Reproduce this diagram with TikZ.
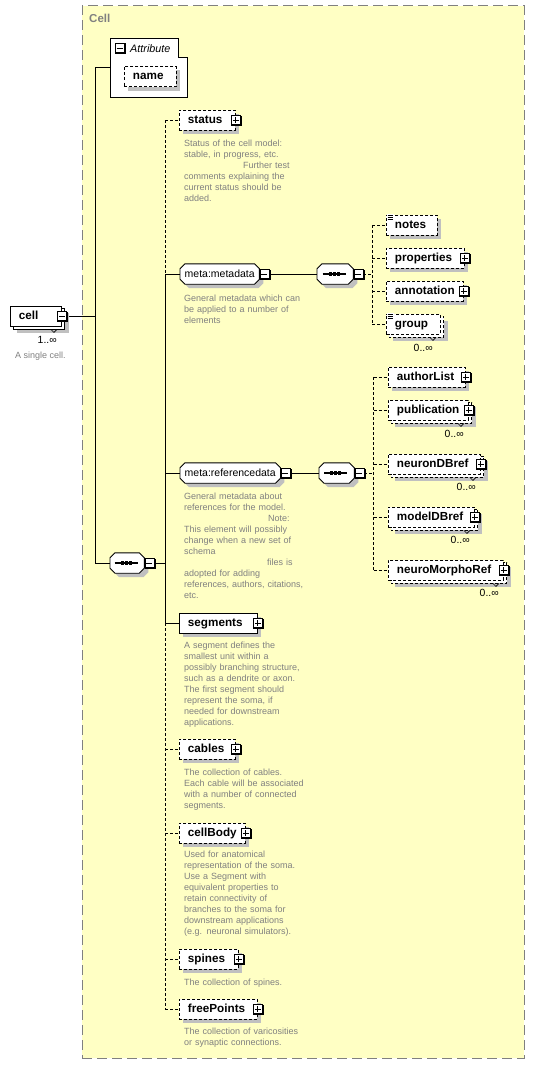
\documentclass[tikz,border=0pt]{standalone}
\usepackage{fontspec}
\setmainfont{Liberation Sans}
\usetikzlibrary{shadows,calc}
\definecolor{cellyellow}{RGB}{255,255,196}
\definecolor{shgray}{RGB}{192,192,192}
\definecolor{descgray}{RGB}{128,128,128}
\definecolor{framegray}{RGB}{128,128,128}
\pgfdeclarelayer{bg}
\pgfdeclarelayer{conn}
\pgfdeclarelayer{back}
\pgfsetlayers{bg,conn,back,main}
\tikzset{
  shad/.style={drop shadow={shadow xshift=4pt, shadow yshift=-4pt, fill=shgray, opacity=1}},
  elem/.style={draw, fill=white, line width=0.9pt, rectangle, minimum height=20pt,
    inner xsep=8.5pt, inner ysep=0pt, text height=8.5pt, text depth=2.5pt, align=left,
    font=\fontsize{11.7}{13}\selectfont\bfseries, anchor=west},
  elw/.code={\pgfmathsetmacro\tw{#1-17}\tikzset{minimum width=#1pt, text width/.expanded=\tw pt}},
  opt/.style={dash pattern=on 3pt off 2pt},
  octel/.style={rectangle, minimum height=20pt, inner xsep=4.5pt, inner ysep=0pt,
    text height=8.5pt, text depth=2.5pt, font=\fontsize{10.5}{12}\selectfont, anchor=west},
  comp/.style={rectangle, minimum height=20pt, inner sep=0pt, anchor=west},
  desc/.style={anchor=base west, inner sep=0pt, text width=150pt, align=left,
    font=\fontsize{9}{11}\selectfont, text=descgray},
  mult/.style={anchor=base east, inner sep=0pt, font=\fontsize{10.4}{12}\selectfont},
  conn/.style={line width=0.9pt},
  pics/plusbox/.style={code={
    \fill[black] (-4.5,-4.5) rectangle (6.2,6.2);
    \filldraw[fill=white,draw=black,line width=0.8pt] (-4.5,-4.5) rectangle (4.5,4.5);
    \draw[line width=0.9pt] (-3,0) -- (3,0) (0,-3) -- (0,3);}},
  pics/minusbox/.style={code={
    \fill[black] (-4.5,-4.5) rectangle (6.2,6.2);
    \filldraw[fill=white,draw=black,line width=0.8pt] (-4.5,-4.5) rectangle (4.5,4.5);
    \draw[line width=0.9pt] (-3,0) -- (3,0);}},
}
\newcommand\octpath[2]{($(#1.north west)+(5+#2,#2)$) -- ($(#1.north east)+(-5+#2,#2)$) -- ($(#1.north east)+(#2,5+#2)$) -- ($(#1.south east)+(#2,-5+#2)$) -- ($(#1.south east)+(-5+#2,#2)$) -- ($(#1.south west)+(5+#2,#2)$) -- ($(#1.south west)+(#2,-5+#2)$) -- ($(#1.north west)+(#2,5+#2)$) -- cycle}
\newcommand\octshape[1]{%
  \begin{pgfonlayer}{back}
  \fill[shgray] \octpath{#1}{4};
  \filldraw[fill=white,draw=black,line width=0.9pt] \octpath{#1}{0};
  \end{pgfonlayer}}
\newcommand\seqsym[1]{%
  \draw[line width=1.1pt] ($(#1.center)+(-12.5,0)$) -- ($(#1.center)+(10.5,0)$);
  \foreach \d in {-5,-1,3}{\fill ($(#1.center)+(\d-1.7,-1.7)$) rectangle ++(3.4,3.4);}}
\newcommand\stackback[2]{%
  \begin{pgfonlayer}{back}
  \fill[shgray] ($(#1.north west)+(7,7)$) rectangle ($(#1.south east)+(7,7)$);
  \filldraw[fill=white,draw=black,line width=0.9pt,#2] ($(#1.north west)+(3,3)$) rectangle ($(#1.south east)+(3,3)$);
  \end{pgfonlayer}
  \draw[line width=0.6pt] ($(#1.south east)+(-11,3)$) -- ++(3,3) -- ++(3,-3);}
\newcommand\docicon[1]{%
  \fill[white] ($(#1.north west)+(0.5,-1)$) rectangle ($(#1.north west)+(8,6.5)$);
  \draw[line width=0.8pt] ($(#1.north west)+(1.5,1)$) -- ++(5.5,0) ($(#1.north west)+(1.5,3)$) -- ++(5.5,0) ($(#1.north west)+(1.5,5)$) -- ++(5.5,0);}
\newcommand\elem[6]{\node[elem, elw=#4, #5] (#1) at (#2,#3+10) {#6};}

\begin{document}
\begin{tikzpicture}[x=1pt, y=-1pt]
\useasboundingbox (0,0) rectangle (535,1065);

% container
\begin{pgfonlayer}{bg}
\node[draw=framegray, fill=cellyellow, line width=0.9pt, dash pattern=on 10pt off 5pt,
  minimum width=441.5pt, minimum height=1052.5pt, anchor=north west, inner sep=0pt]
  (cellgroup) at (82,5.5) {};
\end{pgfonlayer}
\node[anchor=base west, inner sep=0pt, font=\fontsize{11.5}{13}\selectfont\bfseries, text=framegray] (celltitle) at (89,23) {Cell};

% spine coordinates
\coordinate (sp1) at (95,0);
\coordinate (sp2) at (165,0);
\coordinate (sp3) at (372,0);
\coordinate (sp4) at (373.5,0);

% cell element
\elem{cell}{10}{306}{51}{}{cell}
\stackback{cell}{}
\pic at (cell.east) {minusbox};
\node[mult] (cellmult) at ($(cell.south east)+(-5,17)$) {1..∞};
\node[anchor=base west, inner sep=0pt, font=\fontsize{9}{11}\selectfont, text=descgray] (celldesc) at (15,358) {A single cell.};

% attribute group
\node[rectangle, minimum width=77pt, minimum height=59pt, anchor=north west, inner sep=0pt] (attr) at (110,38) {};
\begin{pgfonlayer}{back}
\filldraw[fill=white, draw=black, line width=0.9pt] (attr.north west) -- ($(attr.north east)+(-9,0)$) -- ($(attr.north east)+(-9,19)$) -- ($(attr.north east)+(0,19)$) -- (attr.south east) -- (attr.south west) -- cycle;
\end{pgfonlayer}
\pic at ($(attr.north west)+(9.5,10)$) {minusbox};
\node[anchor=base west, inner sep=0pt, font=\fontsize{10.8}{12}\selectfont\itshape] (attrlabel) at (130,52.5) {Attribute};
\elem{name}{124}{66.5}{52}{opt,shad}{name}

% main sequence
\node[comp, minimum width=34pt] (seqm) at (110,563) {};
\octshape{seqm}
\seqsym{seqm}
\pic at ($(seqm.east)+(5,0)$) {minusbox};

% children
\elem{status}{179}{110}{56}{opt,shad}{status}
\pic at (status.east) {plusbox};
\node[desc] (dstatus) at (184,146) {Status of the cell model:\\stable, in progress, etc.\\\hspace*{59pt}Further test\\comments explaining the\\current status should be\\added.};

\node[octel] (meta) at (180,274) {meta:metadata};
\octshape{meta}
\pic at ($(meta.east)+(5,0)$) {minusbox};
\node[desc] (dmeta) at (184,301) {General metadata which can\\be applied to a number of\\elements};

\node[comp, minimum width=36pt] (seq1) at (317,274) {};
\octshape{seq1}
\seqsym{seq1}
\pic at ($(seq1.east)+(5,0)$) {minusbox};

\elem{notes}{386}{215}{51}{opt,shad}{notes}
\docicon{notes}
\elem{properties}{386}{248}{78}{opt,shad}{properties}
\pic at (properties.east) {plusbox};
\elem{annotation}{386}{281}{77}{opt,shad}{annotation}
\pic at (annotation.east) {plusbox};
\elem{group}{386}{314}{54}{opt}{group}
\stackback{group}{opt}
\docicon{group}
\node[mult] (groupmult) at ($(group.south east)+(-8,17)$) {0..∞};

\node[octel] (ref) at (180,473) {meta:referencedata};
\octshape{ref}
\pic at ($(ref.east)+(5,0)$) {minusbox};
\node[desc] (dref) at (184,499.5) {General metadata about\\references for the model.\\\hspace*{84pt}Note:\\This element will possibly\\change when a new set of\\schema\\\hspace*{83pt}files is\\adopted for adding\\references, authors, citations,\\etc.};

\node[comp, minimum width=35pt] (seq2) at (319,473) {};
\octshape{seq2}
\seqsym{seq2}
\pic at ($(seq2.east)+(5,0)$) {minusbox};

\elem{authorList}{388}{367}{77}{opt,shad}{authorList}
\pic at (authorList.east) {plusbox};
\elem{publication}{388}{400}{80}{opt}{publication}
\stackback{publication}{opt}
\pic at (publication.east) {plusbox};
\node[mult] (pubmult) at ($(publication.south east)+(-5,17)$) {0..∞};
\elem{neuronDBref}{388}{454}{92}{opt}{neuronDBref}
\stackback{neuronDBref}{opt}
\pic at (neuronDBref.east) {plusbox};
\node[mult] (ndbmult) at ($(neuronDBref.south east)+(-5,16.5)$) {0..∞};
\elem{modelDBref}{388}{507}{86}{opt}{modelDBref}
\stackback{modelDBref}{opt}
\pic at (modelDBref.east) {plusbox};
\node[mult] (mdbmult) at ($(modelDBref.south east)+(-5,16.5)$) {0..∞};
\elem{neuroMorphoRef}{388}{560}{115}{opt}{neuroMorphoRef}
\stackback{neuroMorphoRef}{opt}
\pic at (neuroMorphoRef.east) {plusbox};
\node[mult] (nmrmult) at ($(neuroMorphoRef.south east)+(-5,16.5)$) {0..∞};

\elem{segments}{179}{613}{78}{shad}{segments}
\pic at (segments.east) {plusbox};
\node[desc] (dseg) at (184,648.5) {A segment defines the\\smallest unit within a\\possibly branching structure,\\such as a dendrite or axon.\\The first segment should\\represent the soma, if\\needed for downstream\\applications.};

\elem{cables}{179}{739}{56}{opt,shad}{cables}
\pic at (cables.east) {plusbox};
\node[desc] (dcables) at (184,775) {The collection of cables.\\Each cable will be associated\\with a number of connected\\segments.};

\elem{cellBody}{179}{823}{66}{opt,shad}{cellBody}
\pic at (cellBody.east) {plusbox};
\node[desc] (dbody) at (184,857.5) {Used for anatomical\\representation of the soma.\\Use a Segment with\\equivalent properties to\\retain connectivity of\\branches to the soma for\\downstream applications\\(e.g. neuronal simulators).};

\elem{spines}{179}{949}{59}{opt,shad}{spines}
\pic at (spines.east) {plusbox};
\node[desc] (dspines) at (184,985) {The collection of spines.};

\elem{freePoints}{179}{999}{78}{opt,shad}{freePoints}
\pic at (freePoints.east) {plusbox};
\node[desc] (dfree) at (184,1034.5) {The collection of varicosities\\or synaptic connections.};

% connectors
\begin{pgfonlayer}{conn}
\draw[conn] (cell.east) -- (cell.east -| sp1);
\draw[conn] (attr.west) -- (attr.west -| sp1) -- (seqm.west -| sp1) -- (seqm.west);
\draw[conn] (seqm.east) -- (seqm.east -| sp2);
\draw[conn,opt] (status.west -| sp2) -- (meta.west -| sp2);
\draw[conn] (meta.west -| sp2) -- (segments.west -| sp2);
\draw[conn,opt] (segments.west -| sp2) -- (freePoints.west -| sp2);
\draw[conn,opt] (status.west -| sp2) -- (status.west);
\draw[conn] (meta.west -| sp2) -- (meta.west);
\draw[conn] (ref.west -| sp2) -- (ref.west);
\draw[conn] (segments.west -| sp2) -- (segments.west);
\draw[conn,opt] (cables.west -| sp2) -- (cables.west);
\draw[conn,opt] (cellBody.west -| sp2) -- (cellBody.west);
\draw[conn,opt] (spines.west -| sp2) -- (spines.west);
\draw[conn,opt] (freePoints.west -| sp2) -- (freePoints.west);
% metadata sequence
\draw[conn] (meta.east) -- (seq1.west);
\draw[conn,opt] (seq1.east) -- (seq1.east -| sp3);
\draw[conn,opt] (notes.west -| sp3) -- (group.west -| sp3);
\draw[conn,opt] (notes.west -| sp3) -- (notes.west);
\draw[conn,opt] (properties.west -| sp3) -- (properties.west);
\draw[conn,opt] (annotation.west -| sp3) -- (annotation.west);
\draw[conn,opt] (group.west -| sp3) -- (group.west);
% referencedata sequence
\draw[conn] (ref.east) -- (seq2.west);
\draw[conn,opt] (seq2.east) -- (seq2.east -| sp4);
\draw[conn,opt] (authorList.west -| sp4) -- (neuroMorphoRef.west -| sp4);
\draw[conn,opt] (authorList.west -| sp4) -- (authorList.west);
\draw[conn,opt] (publication.west -| sp4) -- (publication.west);
\draw[conn,opt] (neuronDBref.west -| sp4) -- (neuronDBref.west);
\draw[conn,opt] (modelDBref.west -| sp4) -- (modelDBref.west);
\draw[conn,opt] (neuroMorphoRef.west -| sp4) -- (neuroMorphoRef.west);
\end{pgfonlayer}
\end{tikzpicture}
\end{document}
